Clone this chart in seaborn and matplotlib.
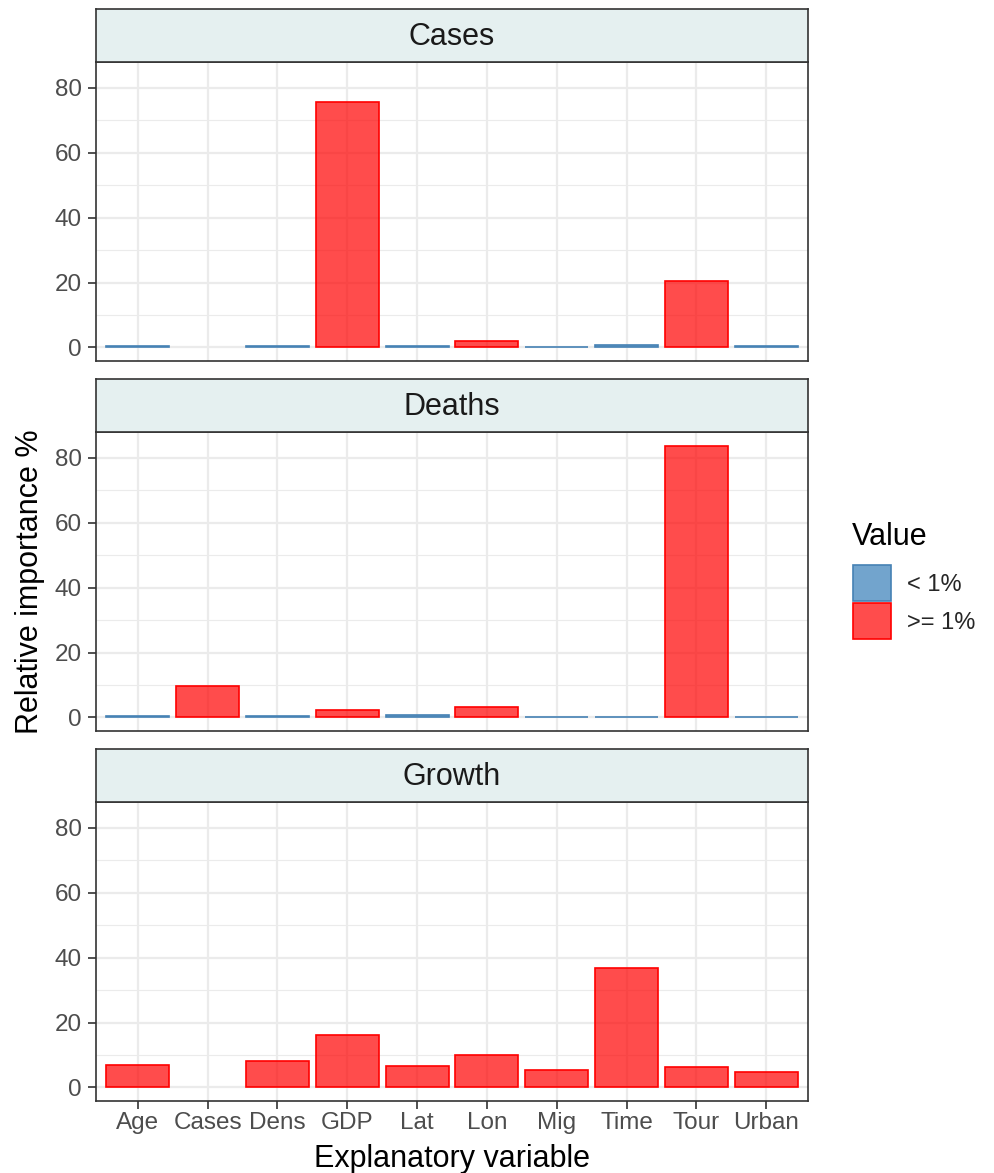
import numpy as np
import pandas as pd
import matplotlib
matplotlib.use("Agg")
import matplotlib.pyplot as plt
import seaborn as sns

variables = ["Age", "Cases", "Dens", "GDP", "Lat", "Lon", "Mig", "Time", "Tour", "Urban"]
panels = ["Cases", "Deaths", "Growth"]
cases_vals = [0.3, np.nan, 0.5, 75.6, 0.3, 2.1, 0.1, 0.6, 20.6, 0.3]
deaths_vals = [0.5, 9.6, 0.3, 2.3, 0.7, 3.1, 0.1, 0.1, 83.8, 0.2]
growth_vals = [6.8, np.nan, 8.1, 16.2, 6.5, 9.9, 5.3, 36.9, 6.4, 4.9]
legend_labels = ["< 1%", ">= 1%"]
y_ticks = [0, 20, 40, 60, 80]

values = {"Cases": cases_vals, "Deaths": deaths_vals, "Growth": growth_vals}
rows = []
for p in panels:
    for v, val in zip(variables, values[p]):
        if np.isnan(val):
            continue
        rows.append({"panel": p, "var": v, "val": val,
                     "grp": legend_labels[0] if val < 1 else legend_labels[1]})
df = pd.DataFrame(rows)

sns.set_theme(style="white")
plt.rcParams["font.family"] = ["Liberation Sans", "DejaVu Sans"]

W, H = 994, 1173
fig = plt.figure(figsize=(W / 100, H / 100), dpi=100)

fill_cols = {legend_labels[0]: (0.215, 0.494, 0.722, 0.7), legend_labels[1]: (1.0, 0.0, 0.0, 0.7)}
edge_cols = {legend_labels[0]: "#4682B4", legend_labels[1]: "#FF0000"}

left, right = 96, 808
panel_px = [(62, 361), (432, 731), (802, 1101)]
strip_h = 53
ymax_data = 83.8
ylo, yhi = -0.05 * ymax_data, ymax_data * 1.05
grid_c = "#EBEBEB"
frame_c = "#333333"

for i, (p, (top, bot)) in enumerate(zip(panels, panel_px)):
    ax = fig.add_axes([left / W, 1 - bot / H, (right - left) / W, (bot - top) / H])
    sub = df[df["panel"] == p]
    sns.barplot(data=sub, x="var", y="val", hue="grp", order=variables,
                hue_order=legend_labels, palette=fill_cols, dodge=False,
                width=0.9, ax=ax, legend=False, saturation=1)
    for patch in ax.patches:
        fc = patch.get_facecolor()
        if fc[0] > 0.9:
            patch.set_edgecolor(edge_cols[legend_labels[1]])
        else:
            patch.set_edgecolor(edge_cols[legend_labels[0]])
        patch.set_linewidth(1.2)
        patch.set_zorder(3)
    ax.set_ylim(ylo, yhi)
    ax.set_xlim(-0.6, len(variables) - 0.4)
    ax.set_yticks(y_ticks)
    ax.set_yticks([10, 30, 50, 70], minor=True)
    ax.grid(True, which="major", color=grid_c, linewidth=1.6, zorder=0)
    ax.grid(True, which="minor", axis="y", color=grid_c, linewidth=0.8, zorder=0)
    ax.set_axisbelow(True)
    for s in ax.spines.values():
        s.set_color(frame_c)
        s.set_linewidth(1.2)
        s.set_zorder(5)
    ax.tick_params(axis="y", which="major", length=6, width=1.2, color=frame_c,
                   labelsize=17.5, labelcolor="#4D4D4D", direction="out", pad=4,
                   left=True)
    ax.tick_params(axis="x", which="major", length=6, width=1.2, color=frame_c,
                   labelsize=17.5, labelcolor="#4D4D4D", direction="out", pad=14.5,
                   bottom=(i == 2))
    ax.tick_params(axis="both", which="minor", length=0)
    ax.set_xlabel("")
    ax.set_ylabel("")
    if i < 2:
        ax.set_xticklabels([])
    else:
        ax.set_xticks(range(len(variables)))
        ax.set_xticklabels(variables)
        for lbl in ax.get_xticklabels():
            lbl.set_verticalalignment("baseline")

    sax = fig.add_axes([left / W, 1 - top / H, (right - left) / W, strip_h / H])
    sax.set_facecolor("#E5F0F0")
    sax.set_xticks([])
    sax.set_yticks([])
    for s in sax.spines.values():
        s.set_color(frame_c)
        s.set_linewidth(1.2)
    sax.text(0.5, 0.48, p, ha="center", va="center", fontsize=22, color="#1A1A1A",
             transform=sax.transAxes)

fig.text((left + right) / 2 / W, 1 - 1167 / H, "Explanatory variable", ha="center",
         va="baseline", fontsize=22, color="black")
fig.text(30 / W, 1 - 582 / H, "Relative importance %", rotation=90, ha="center",
         va="center", fontsize=22, color="black")

# legend
fig.text(852 / W, 1 - 545 / H, "Value", ha="left", va="baseline", fontsize=22, color="black")
handles = [matplotlib.patches.Patch(facecolor=fill_cols[g], edgecolor=edge_cols[g], linewidth=1.2)
           for g in legend_labels]
fig.legend(handles, legend_labels, loc="upper left", bbox_to_anchor=(853 / W, 1 - 565 / H),
           frameon=False, fontsize=17, handlelength=1.6, handleheight=1.98,
           handletextpad=0.7, labelspacing=0.08, borderaxespad=0, borderpad=0)

fig.savefig("out.png", dpi=100)
